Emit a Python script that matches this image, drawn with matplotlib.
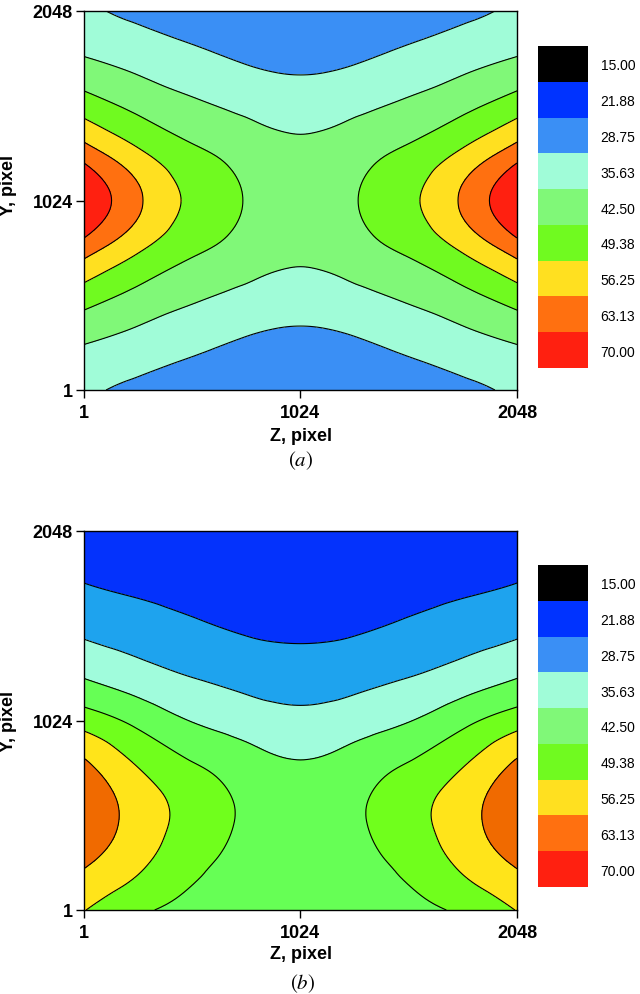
import numpy as np
import matplotlib
matplotlib.use("Agg")
import matplotlib.pyplot as plt
import matplotlib.tri as mtri
from matplotlib import font_manager
from matplotlib.colors import ListedColormap

plt.rcParams['font.family'] = ['Liberation Sans', 'DejaVu Sans']
plt.rcParams['mathtext.fontset'] = 'stix'

# contour levels and the key labels
levels = [15.00, 21.88, 28.75, 35.63, 42.50, 49.38, 56.25, 63.13, 70.00, 100.0]
key_labels = ["15.00", "21.88", "28.75", "35.63", "42.50", "49.38", "56.25", "63.13", "70.00"]

# sample positions (pixel) of the value grids below
z_nodes = np.linspace(1, 2048, 9)
y_nodes = np.linspace(1, 2048, 9)

# panel (a): values, rows from Y=1 (bottom) to Y=2048 (top)
values_a = np.array([
    [37.0, 34.0, 32.0, 31.0, 30.5, 31.0, 32.0, 34.0, 37.0],
    [42.8, 40.1, 37.3, 35.0, 34.1, 35.0, 37.3, 40.1, 42.8],
    [53.0, 47.6, 43.8, 40.8, 39.1, 40.8, 43.8, 47.6, 53.0],
    [66.7, 57.5, 50.8, 46.9, 44.6, 46.9, 50.8, 57.5, 66.7],
    [77.4, 64.2, 54.7, 49.1, 47.2, 49.1, 54.7, 64.2, 77.4],
    [66.7, 57.5, 50.8, 46.9, 44.6, 46.9, 50.8, 57.5, 66.7],
    [53.0, 47.6, 43.8, 40.8, 39.1, 40.8, 43.8, 47.6, 53.0],
    [42.8, 40.1, 37.3, 35.0, 34.1, 35.0, 37.3, 40.1, 42.8],
    [37.0, 34.0, 32.0, 31.0, 30.5, 31.0, 32.0, 34.0, 37.0],
])

# panel (b)
values_b = np.array([
    [56.5, 50.6, 47.8, 46.7, 46.3, 46.7, 47.8, 50.6, 56.5],
    [64.0, 57.8, 51.0, 48.0, 47.0, 48.0, 51.0, 57.8, 64.0],
    [68.0, 60.5, 53.5, 48.6, 47.0, 48.6, 53.5, 60.5, 68.0],
    [65.0, 56.3, 50.3, 46.0, 43.5, 46.0, 50.3, 56.3, 65.0],
    [53.2, 47.5, 42.2, 39.2, 37.5, 39.2, 42.2, 47.5, 53.2],
    [41.4, 37.9, 35.1, 33.1, 32.0, 33.1, 35.1, 37.9, 41.4],
    [33.8, 31.8, 29.7, 27.6, 26.8, 27.6, 29.7, 31.8, 33.8],
    [28.3, 26.8, 25.5, 24.1, 23.5, 24.1, 25.5, 26.8, 28.3],
    [25.0, 24.0, 23.5, 23.0, 22.5, 23.0, 23.5, 24.0, 25.0],
])

key_colors = ['#000000', '#0033ff', '#3a8ff5', '#a0fcd8', '#80f878',
              '#70fa20', '#ffe020', '#ff7010', '#ff2010']
fill_a = key_colors
fill_b = ['#000000', '#0432fc', '#1ea3ee', '#a0fcdc', '#66ff55',
          '#70ff1c', '#ffe41a', '#f06a00', '#ff2010']

# the key uses a condensed face in the original
have_narrow = any('Narrow' in f.name for f in font_manager.fontManager.ttflist)
key_family = ['Liberation Sans Narrow', 'Liberation Sans'] if have_narrow else ['Liberation Sans']
key_size = 10 if have_narrow else 8.5


def draw_map(ax, values, colors, xlab_y, ylab_y):
    zz, yy = np.meshgrid(z_nodes, y_nodes)
    tri = mtri.Triangulation(zz.ravel(), yy.ravel())
    refiner = mtri.UniformTriRefiner(tri)
    tri_fine, val_fine = refiner.refine_field(values.ravel(), subdiv=4)
    ax.tricontourf(tri_fine, val_fine, levels=levels, colors=colors)
    ax.tricontour(tri_fine, val_fine, levels=levels[1:-1], colors='k', linewidths=0.8)
    ax.set_xlim(1, 2048)
    ax.set_ylim(1, 2048)
    ax.set_xticks([1, 1024, 2048])
    ax.set_yticks([1, 1024, 2048])
    ax.tick_params(direction='out', length=6, width=1, labelsize=13)
    ax.tick_params(axis='x', pad=4)
    ax.tick_params(axis='y', pad=2)
    for lab in ax.get_xticklabels() + ax.get_yticklabels():
        lab.set_fontweight('bold')
    for sp in ax.spines.values():
        sp.set_linewidth(1.0)
    ax.set_xlabel('Z, pixel', fontsize=13, fontweight='bold')
    ax.set_ylabel('Y, pixel', fontsize=13, fontweight='bold')
    ax.xaxis.set_label_coords(0.5, xlab_y)
    ax.yaxis.set_label_coords(-0.155, ylab_y)


def draw_key(fig, rect, colors):
    kax = fig.add_axes(rect)
    idx = np.arange(len(colors)).reshape(-1, 1)
    kax.pcolormesh([0, 1], np.arange(len(colors) + 1), idx,
                   cmap=ListedColormap(colors), vmin=-0.5, vmax=len(colors) - 0.5)
    kax.set_ylim(len(colors), 0)
    kax.set_xlim(0, 1)
    kax.set_xticks([])
    kax.yaxis.tick_right()
    kax.set_yticks(np.arange(len(colors)) + 0.5)
    kax.set_yticklabels(key_labels, family=key_family, fontsize=key_size)
    kax.tick_params(axis='y', length=0, pad=9)
    for sp in kax.spines.values():
        sp.set_visible(False)


fig = plt.figure(figsize=(6.4, 9.95), dpi=100)

ax_a = fig.add_axes([84 / 640, 1 - 391 / 995, 433 / 640, 379 / 995])
draw_map(ax_a, values_a, fill_a, -0.098, 0.542)
draw_key(fig, [538 / 640, 1 - 369 / 995, 50 / 640, 322 / 995], key_colors)
fig.text(301 / 640, 1 - 461 / 995, r'$(a)$', fontsize=15, ha='center', va='center')

ax_b = fig.add_axes([84 / 640, 1 - 911 / 995, 433 / 640, 379 / 995])
draw_map(ax_b, values_b, fill_b, -0.092, 0.5)
draw_key(fig, [538 / 640, 1 - 888 / 995, 50 / 640, 322 / 995], key_colors)
fig.text(303 / 640, 1 - 984 / 995, r'$(b)$', fontsize=15, ha='center', va='center')

fig.savefig('out.png', dpi=100)
